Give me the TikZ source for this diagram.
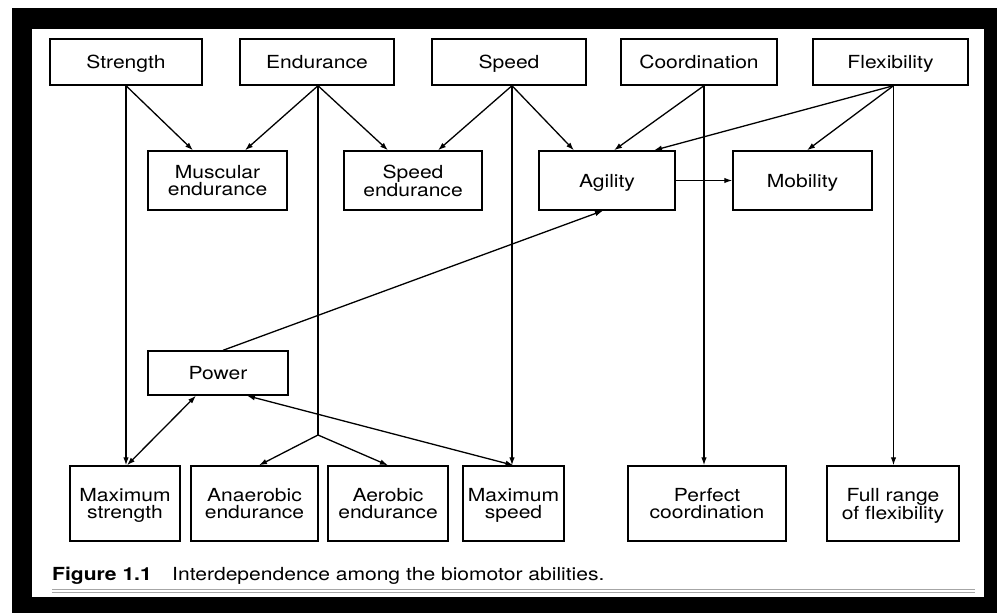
\documentclass[tikz,border=0pt]{standalone}
\usepackage{fontspec}
\setmainfont{TeX Gyre Heros}[FakeStretch=1.17]
\usetikzlibrary{arrows.meta,calc}
\begin{document}
\begin{tikzpicture}[x=1pt,y=-1pt,
  box/.style={draw,line width=1.4pt,inner sep=0pt,align=center,
    font=\fontsize{18}{16.5}\selectfont},
  one/.style={box,text height=13pt,text depth=0pt},
  two/.style={box,text depth=0pt},
  conn/.style={line width=1.3pt,-{Latex[length=8pt,width=5.5pt]}},
  plain/.style={line width=1.3pt},
  both/.style={line width=1.3pt,{Latex[length=8pt,width=5.5pt]}-{Latex[length=8pt,width=5.5pt]}}]
\useasboundingbox (0,0) rectangle (997,613);
\fill[white] (0,0) rectangle (997,613);
\fill[black] (12,8) rectangle (997,613);
\fill[white] (32,29) rectangle (984,597);

% top row
\node[one,minimum width=152pt,minimum height=46pt] (str) at (126,62) {Strength};
\node[one,minimum width=154pt,minimum height=46pt] (end) at (317,62) {Endurance};
\node[one,minimum width=154pt,minimum height=46pt] (spd) at (509,62) {Speed};
\node[one,minimum width=156pt,minimum height=46pt] (coo) at (699,62) {Coordination};
\node[one,minimum width=155pt,minimum height=46pt] (flx) at (890.5,62) {Flexibility};

% second row
\node[two,minimum width=139pt,minimum height=59pt] (mus) at (217.5,180.5) {Muscular\\endurance};
\node[two,minimum width=138pt,minimum height=59pt] (sen) at (413,180.5) {Speed\\endurance};
\node[one,minimum width=136pt,minimum height=59pt] (agi) at (607,180.5) {Agility};
\node[one,minimum width=139pt,minimum height=59pt] (mob) at (802.5,180.5) {Mobility};

% power
\node[one,minimum width=140pt,minimum height=44pt] (pow) at (218,373) {Power};

% bottom row
\node[two,minimum width=110pt,minimum height=75pt] (mst) at (125,503.5) {Maximum\\strength};
\node[two,minimum width=127pt,minimum height=75pt] (ana) at (254.5,503.5) {Anaerobic\\endurance};
\node[two,minimum width=120pt,minimum height=75pt] (aer) at (388,503.5) {Aerobic\\endurance};
\node[two,minimum width=101pt,minimum height=75pt] (msp) at (513.5,503.5) {Maximum\\speed};
\node[two,minimum width=158pt,minimum height=75pt] (pco) at (707,503.5) {Perfect\\coordination};
\node[two,minimum width=132pt,minimum height=75pt] (frf) at (893,503.5) {Full range\\of flexibility};

% junction below endurance
\coordinate (ej) at (318,435);

% connectors
\draw[conn] (str.south) -- (str.south |- mst.north);
\draw[conn] (str.south) -- ([xshift=-24.5pt]mus.north);
\draw[conn] ([xshift=1pt]end.south) -- ([xshift=27.5pt]mus.north);
\draw[conn] ([xshift=1pt]end.south) -- ([xshift=-25pt]sen.north);
\draw[plain] ([xshift=1pt]end.south) -- (ej);
\draw[conn] (ej) -- ([xshift=4.5pt]ana.north);
\draw[conn] (ej) -- (aer.north);
\draw[conn] ([xshift=3pt]spd.south) -- ([xshift=25pt]sen.north);
\draw[conn] ([xshift=3pt]spd.south) -- ([xshift=-33pt]agi.north);
\draw[conn] ([xshift=3pt]spd.south) -- ([xshift=3pt]spd.south |- msp.north);
\draw[conn] ([xshift=5pt]coo.south) -- ([xshift=7pt]agi.north);
\draw[conn] ([xshift=5pt]coo.south) -- ([xshift=5pt]coo.south |- pco.north);
\draw[conn] ([xshift=3pt]flx.south) -- ([xshift=47pt]agi.north);
\draw[conn] ([xshift=3pt]flx.south) -- ([xshift=4.5pt]mob.north);
\draw[conn] ([xshift=3pt]flx.south) -- ([xshift=3pt]flx.south |- frf.north);
\draw[conn] (agi.east) -- (mob.west);
\draw[conn] ([xshift=5pt]pow.north) -- ([xshift=-4pt]agi.south);
\draw[both] ([xshift=2pt]mst.north) -- ([xshift=-22pt]pow.south);
\draw[both] ([xshift=29pt]pow.south) -- (msp.north);

% caption
\node[anchor=base west,inner sep=0pt,font=\fontsize{18}{18}\selectfont\bfseries] (figlab) at (52,580) {Figure 1.1};
\node[anchor=base west,inner sep=0pt,font=\fontsize{18}{18}\selectfont] (figtxt) at (172,580) {Interdependence among the biomotor abilities.};
\draw[gray!70,line width=0.8pt] (52,589.5) -- (975,589.5);
\draw[gray!70,line width=0.8pt] (52,592) -- (975,592);
\end{tikzpicture}
\end{document}
